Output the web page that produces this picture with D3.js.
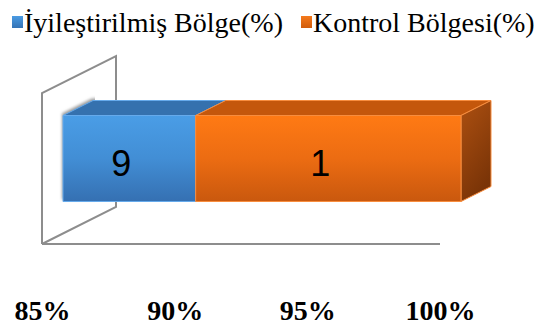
<!DOCTYPE html>
<html>
<head>
<meta charset="utf-8">
<script src="https://cdn.jsdelivr.net/npm/d3@7"></script>
<style>
  html, body { margin: 0; padding: 0; background: #ffffff; }
  svg { display: block; }
  .serif { font-family: "Liberation Serif", "Times New Roman", Times, serif; }
  .sans { font-family: "Liberation Sans", Arial, Helvetica, sans-serif; }
</style>
</head>
<body>
<svg id="chart" width="545" height="329"></svg>
<script>
// Chart data
const categories = ["Bölge"];
const seriesNames = ["İyileştirilmiş Bölge(%)", "Kontrol Bölgesi(%)"];
const seriesValues = [9, 1];
const tickValues = [0.85, 0.90, 0.95, 1.00];
const tickLabels = ["85%", "90%", "95%", "100%"];
const legendX = [12, 301];

const svg = d3.select("#chart");
const H = 329;

// 3D frame: floor front edge scale, and the depth vector of the full floor
const xFloor = d3.scaleLinear().domain([0.85, 1.0]).range([42, 440]);
const depth = { dx: 74, dy: -37 };
const floorY = 244, wallTopY = 93;
const zFront = 21 / 74, zBack = 51 / 74;
const yBand = d3.scaleBand().domain(categories).range([126, 212]).padding(0);

function proj(v, y, z) {
  return [xFloor(v) + z * depth.dx, y + z * depth.dy];
}

// Percent-stacked layout of the two series
const row = { cat: categories[0] };
seriesNames.forEach((s, i) => row[s] = seriesValues[i]);
const stacked = d3.stack().keys(seriesNames).offset(d3.stackOffsetExpand)([row]);
const [d0, d1] = xFloor.domain();
const clampV = v => Math.max(d0, Math.min(d1, v));

const defs = svg.append("defs");
function vGrad(id, stops, x2 = "0", y2 = "1") {
  const g = defs.append("linearGradient").attr("id", id)
    .attr("x1", "0").attr("y1", "0").attr("x2", x2).attr("y2", y2);
  stops.forEach(([o, c]) => g.append("stop").attr("offset", o).attr("stop-color", c));
}
vGrad("frontBlue", [[0, "#4a9de6"], [0.5, "#428ed5"], [1, "#3570b2"]]);
vGrad("frontOrange", [[0, "#ff7a14"], [0.5, "#ec6c12"], [1, "#c9580e"]]);
vGrad("sideOrange", [[0, "#ad5011"], [1, "#7a3407"]], "0.4", "1");
vGrad("legendBlue", [[0, "#4a9be3"], [1, "#3573b5"]]);
vGrad("legendOrange", [[0, "#f57a1c"], [1, "#d05c0c"]]);
defs.append("filter").attr("id", "soft").attr("x", "-50%").attr("y", "-50%")
  .attr("width", "200%").attr("height", "200%")
  .append("feGaussianBlur").attr("stdDeviation", 1.6);
defs.append("clipPath").attr("id", "wallClip")
  .append("rect").attr("x", 0).attr("y", 0)
  .attr("width", xFloor(d0) + zBack * depth.dx + 2).attr("height", H);

const styles = [
  { front: "url(#frontBlue)", top: "#3571ae", side: "#2d5f94", stroke: "#66aaeb", legend: "url(#legendBlue)" },
  { front: "url(#frontOrange)", top: "#c4570c", side: "url(#sideOrange)", stroke: "#f88d3e", legend: "url(#legendOrange)" }
];

// Left wall and floor edge
const frame = svg.append("g").attr("fill", "none").attr("stroke", "#8d8d8d").attr("stroke-width", 2);
const wallPts = [
  [xFloor(d0), floorY], [xFloor(d0), wallTopY],
  [xFloor(d0) + depth.dx, wallTopY + depth.dy], [xFloor(d0) + depth.dx, floorY + depth.dy]
];
frame.append("path").attr("d", d3.line()(wallPts.concat([[xFloor(d0), floorY]])))
  .attr("stroke-linejoin", "miter");
frame.append("line")
  .attr("x1", xFloor(d0)).attr("y1", floorY)
  .attr("x2", xFloor(d1)).attr("y2", floorY);

// Bars
const cat = categories[0];
const yTop = yBand(cat), yBot = yBand(cat) + yBand.bandwidth();
const bars = svg.append("g");

// soft shadow of the bar end falling on the wall
const first = stacked[0][0];
const sx0 = clampV(first[0]), sx1 = clampV(first[1]);
bars.append("path")
  .attr("clip-path", "url(#wallClip)")
  .attr("d", d3.line()([
    proj(sx0, yTop, zBack), proj(sx1, yTop, zBack), proj(sx1, yBot, zFront),
    proj(sx0, yBot, zFront), proj(sx0, yTop, zFront)
  ].map(([x, y]) => [x - 1, y - 2])) + "Z")
  .attr("fill", "#9a9a9a")
  .attr("filter", "url(#soft)");

stacked.forEach((s, i) => {
  const a = clampV(s[0][0]), b = clampV(s[0][1]);
  if (b <= a) return;
  const st = styles[i];
  const g = bars.append("g").attr("stroke", st.stroke).attr("stroke-width", 1).attr("stroke-linejoin", "round");
  // top face
  g.append("path").attr("fill", st.top)
    .attr("d", d3.line()([proj(a, yTop, zFront), proj(a, yTop, zBack), proj(b, yTop, zBack), proj(b, yTop, zFront)]) + "Z");
  // end face, only where the stack ends
  if (i === stacked.length - 1) {
    g.append("path").attr("fill", st.side)
      .attr("d", d3.line()([proj(b, yTop, zFront), proj(b, yTop, zBack), proj(b, yBot, zBack), proj(b, yBot, zFront)]) + "Z");
  }
  // front face
  const [fx0, fy0] = proj(a, yTop, zFront);
  const [fx1, fy1] = proj(b, yBot, zFront);
  g.append("rect").attr("x", fx0).attr("y", fy0)
    .attr("width", fx1 - fx0).attr("height", fy1 - fy0)
    .attr("fill", st.front);
  // value label
  bars.append("text")
    .attr("class", "sans")
    .attr("x", (fx0 + fx1) / 2 - 8)
    .attr("y", fy1 - 26)
    .attr("text-anchor", "middle")
    .attr("font-size", 36)
    .attr("fill", "#000")
    .text(seriesValues[i]);
});

// Value axis labels
const axis = d3.axisBottom(xFloor)
  .tickValues(tickValues)
  .tickFormat((d, i) => tickLabels[i])
  .tickSize(0);
const ax = svg.append("g").call(axis).attr("font-family", null).attr("font-size", null);
ax.select(".domain").remove();
ax.selectAll("text")
  .attr("class", "serif")
  .attr("y", 320).attr("dy", 0)
  .attr("font-size", 28)
  .attr("font-weight", "bold")
  .attr("fill", "#000");

// Legend
const legend = svg.append("g");
seriesNames.forEach((name, i) => {
  legend.append("rect").attr("x", legendX[i]).attr("y", 16).attr("width", 11).attr("height", 12)
    .attr("fill", styles[i].legend);
  legend.append("text")
    .attr("class", "serif")
    .attr("x", legendX[i] + 12).attr("y", 32)
    .attr("font-size", 28)
    .attr("fill", "#000")
    .text(name);
});
</script>
</body>
</html>
